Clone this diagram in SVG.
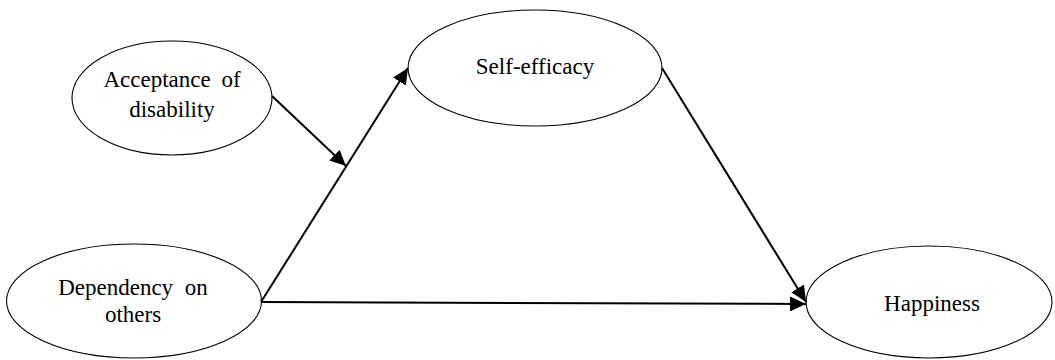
<svg xmlns="http://www.w3.org/2000/svg" width="1055" height="360" viewBox="0 0 1055 360">
<style>
.node ellipse{fill:#fff;stroke:#000;stroke-width:1.1}
.conn line{stroke:#000;stroke-width:2;fill:none}
</style>
<defs>
<marker id="arr" markerUnits="userSpaceOnUse" markerWidth="17" markerHeight="15" refX="16" refY="7.5" orient="auto">
<path d="M0,0 L16,7.5 L0,15 Z" fill="#000"/>
</marker>
</defs>
<g font-family="'Liberation Serif', 'Times New Roman', serif" font-size="23" text-anchor="middle" fill="#000">
<g id="acceptance" class="node">
<ellipse cx="172" cy="98" rx="100" ry="57"/>
<text x="172" y="87" word-spacing="5">Acceptance of</text>
<text x="172" y="117">disability</text>
</g>
<g id="selfefficacy" class="node">
<ellipse cx="535" cy="68" rx="127" ry="58"/>
<text x="535" y="74">Self-efficacy</text>
</g>
<g id="dependency" class="node">
<ellipse cx="134" cy="301" rx="127.5" ry="57"/>
<text x="133" y="295" word-spacing="6">Dependency on</text>
<text x="133" y="322">others</text>
</g>
<g id="happiness" class="node">
<ellipse cx="929" cy="302" rx="123" ry="56"/>
<text x="932" y="311">Happiness</text>
</g>
</g>
<g id="connectors" class="conn">
<line x1="272" y1="96" x2="346" y2="166" marker-end="url(#arr)"/>
<line x1="261" y1="302" x2="408" y2="68" marker-end="url(#arr)"/>
<line x1="662" y1="68" x2="806" y2="302" marker-end="url(#arr)"/>
<line x1="261" y1="302" x2="806" y2="304" marker-end="url(#arr)"/>
</g>
</svg>
